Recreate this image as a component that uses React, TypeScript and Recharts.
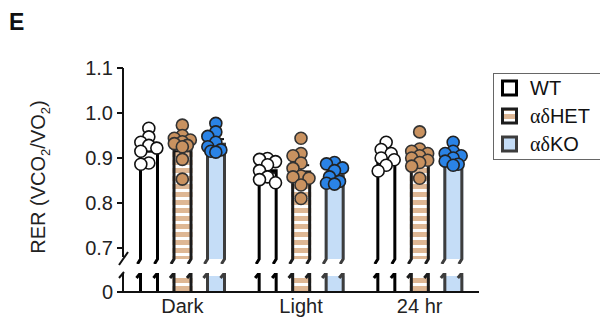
import { Bar, ComposedChart, ErrorBar, Scatter, XAxis, YAxis } from "recharts";

// Respiratory exchange ratio per genotype, dark / light phase and full day
const GROUPS = ["Dark", "Light", "24 hr"];

const WT_MEAN = [0.924, 0.875, 0.902];
const WT_SEM = [0.01, 0.008, 0.008];
const HET_MEAN = [0.926, 0.872, 0.905];
const HET_SEM = [0.011, 0.012, 0.009];
const KO_MEAN = [0.934, 0.864, 0.904];
const KO_SEM = [0.008, 0.007, 0.006];

const WT_POINTS = [
  [0.966, 0.947, 0.935, 0.928, 0.922, 0.915, 0.889, 0.886],
  [0.899, 0.897, 0.892, 0.885, 0.872, 0.858, 0.852, 0.845],
  [0.935, 0.919, 0.91, 0.9, 0.896, 0.884, 0.871],
];
const HET_POINTS = [
  [0.973, 0.95, 0.944, 0.94, 0.936, 0.932, 0.928, 0.925, 0.897, 0.853],
  [0.944, 0.91, 0.905, 0.889, 0.877, 0.86, 0.858, 0.855, 0.84, 0.81],
  [0.958, 0.92, 0.915, 0.91, 0.905, 0.9, 0.895, 0.89, 0.882, 0.855],
];
const KO_POINTS = [
  [0.977, 0.958, 0.948, 0.935, 0.925, 0.918, 0.915, 0.913],
  [0.89, 0.887, 0.878, 0.872, 0.858, 0.848, 0.844, 0.842],
  [0.935, 0.915, 0.91, 0.905, 0.9, 0.893, 0.886, 0.884],
];

const Y_TICKS = [0.7, 0.8, 0.9, 1.0, 1.1];
const Y_MIN = 0.68;
const Y_MAX = 1.1;

// layout
const W = 600;
const H = 328;
const PLOT_LEFT = 123;
const PLOT_RIGHT = 479;
const BAND = (PLOT_RIGHT - PLOT_LEFT) / GROUPS.length;
const UPPER_TOP = 68;
const UPPER_BOTTOM = 257;
const UPPER_H = 264;
const LOWER_Y = 262;
const LOWER_TOP = 273;
const AXIS_Y = 292;
const BAR_SIZE = 20;
const BAR_GAP = 13.5;
const DOT_R = 6;

const FONT = "'Liberation Sans', Arial, sans-serif";
const TICK = { fontSize: 20, fill: "#222", fontFamily: FONT };
const AXIS_LINE = { stroke: "#111", strokeWidth: 2 };

const SERIES = [
  { key: "wt", label: "WT", stroke: "#000", fill: "#fff", dot: "#fff", dotStroke: "#111", mean: WT_MEAN, sem: WT_SEM, points: WT_POINTS },
  { key: "het", label: "HET", stroke: "#1c1c1c", fill: "url(#stripes)", dot: "#c99260", dotStroke: "#333", mean: HET_MEAN, sem: HET_SEM, points: HET_POINTS },
  { key: "ko", label: "KO", stroke: "#3d3d3d", fill: "#c5ddf7", dot: "#2a83e6", dotStroke: "#222", mean: KO_MEAN, sem: KO_SEM, points: KO_POINTS },
];

const table = GROUPS.map((group, i) => {
  const row: Record<string, string | number> = { group };
  SERIES.forEach((s) => {
    row[s.key] = s.mean[i];
    row[s.key + "Sem"] = s.sem[i];
  });
  return row;
});

// simple beeswarm: nudge dots sideways so they don't pile on each other
const PX_PER_UNIT = (UPPER_BOTTOM - UPPER_TOP) / (Y_MAX - Y_MIN);
const SLOTS = [0, -5, 5, -8, 8];
const MIN_GAP = 8;
function swarm(values: number[]): number[] {
  const placed: { dx: number; y: number }[] = [];
  return values.map((v) => {
    const y = v * PX_PER_UNIT;
    let best = 0;
    let bestGap = -1;
    for (const dx of SLOTS) {
      const gap = Math.min(Infinity, ...placed.map((p) => Math.hypot(p.dx - dx, p.y - y)));
      if (gap >= MIN_GAP) {
        best = dx;
        break;
      }
      if (gap > bestGap) {
        best = dx;
        bestGap = gap;
      }
    }
    placed.push({ dx: best, y });
    return best;
  });
}

const STEP = (BAR_SIZE + BAR_GAP) / BAND;
const scatterData = SERIES.map((s, si) =>
  s.points.flatMap((vals, g) => {
    const offs = swarm(vals);
    return vals.map((v, k) => ({ x: g + 0.5 + (si - 1) * STEP + offs[k] / BAND, y: v }));
  })
);

// bar with broken-axis ends: "upper" piece has feet at the bottom, "lower" piece has flags on top
function brokenBar(stroke: string, fill: string, part: "upper" | "lower") {
  return (props: any) => {
    const { x, y, width, height } = props;
    const l = x + 1.5;
    const r = x + width - 1.5;
    const bottom = y + height;
    if (part === "upper") {
      return (
        <g>
          <rect x={x} y={y} width={width} height={height + 2} fill={fill} />
          <path
            d={`M${l - 3},${bottom + 7} L${l},${bottom + 2} L${l},${y + 1.5} L${r},${y + 1.5} L${r},${bottom + 2} L${r - 3},${bottom + 7}`}
            fill="none"
            stroke={stroke}
            strokeWidth={3}
          />
        </g>
      );
    }
    const top = Math.max(y, LOWER_TOP - LOWER_Y);
    return (
      <g>
        <rect x={x} y={top + 3} width={width} height={bottom - top - 3} fill={fill} />
        <path d={`M${l - 4},${top + 5} L${l},${top} L${l},${bottom}`} fill="none" stroke={stroke} strokeWidth={3} />
        <path d={`M${r - 4},${top + 5} L${r},${top} L${r},${bottom}`} fill="none" stroke={stroke} strokeWidth={3} />
      </g>
    );
  };
}

function dot(fill: string, stroke: string) {
  return (p: any) => <circle cx={p.cx} cy={p.cy} r={DOT_R} fill={fill} stroke={stroke} strokeWidth={1.6} />;
}

function Stripes({ id }: { id: string }) {
  return (
    <defs>
      <pattern id={id} patternUnits="userSpaceOnUse" width={8} height={8}>
        <rect width={8} height={8} fill="#deb794" />
        <rect y={5} width={8} height={3} fill="#fff" />
      </pattern>
    </defs>
  );
}

function Legend() {
  return (
    <div
      style={{
        position: "absolute",
        left: 493,
        top: 73,
        width: 130,
        height: 87,
        border: "1px solid #666",
        boxSizing: "border-box",
      }}
    >
      <svg width={130} height={87}>
        <Stripes id="stripes-legend" />
        {SERIES.map((s, i) => {
          const cy = 14 + i * 28;
          return (
            <g key={s.key}>
              <rect
                x={8.5}
                y={cy - 7}
                width={14}
                height={14}
                fill={s.key === "het" ? "url(#stripes-legend)" : s.fill}
                stroke={s.stroke}
                strokeWidth={3}
              />
              <text x={36} y={cy + 7} fontSize={20} fontFamily={FONT} fill="#111">
                {s.key !== "wt" && <tspan fontFamily="'Liberation Serif', serif">αδ</tspan>}
                {s.label}
              </text>
            </g>
          );
        })}
      </svg>
    </div>
  );
}

export default function App() {
  return (
    <div style={{ position: "absolute", left: 0, top: 0, width: W, height: H, background: "#fff", fontFamily: FONT }}>
      {/* upper piece: 0.7 – 1.1 */}
      <div style={{ position: "absolute", left: 0, top: 0 }}>
        <ComposedChart
          width={W}
          height={UPPER_H}
          data={table}
          barSize={BAR_SIZE}
          barGap={BAR_GAP}
          margin={{ top: UPPER_TOP, right: W - PLOT_RIGHT, bottom: UPPER_H - UPPER_BOTTOM, left: 0 }}
        >
          <Stripes id="stripes" />
          <XAxis dataKey="group" hide />
          <XAxis xAxisId="pts" type="number" dataKey="x" domain={[0, GROUPS.length]} hide />
          <YAxis
            width={PLOT_LEFT}
            type="number"
            domain={[Y_MIN, Y_MAX]}
            ticks={Y_TICKS}
            tickFormatter={(v: number) => v.toFixed(1)}
            axisLine={AXIS_LINE}
            tickLine={AXIS_LINE}
            tickSize={6}
            tickMargin={4}
            tick={TICK}
          />
          {SERIES.map((s) => (
            <Bar key={s.key} dataKey={s.key} isAnimationActive={false} shape={brokenBar(s.stroke, s.fill, "upper")}>
              <ErrorBar dataKey={s.key + "Sem"} width={8} stroke="#111" strokeWidth={2} direction="y" />
            </Bar>
          ))}
          {SERIES.map((s, si) => (
            <Scatter
              key={s.key + "-pts"}
              data={scatterData[si]}
              dataKey="y"
              xAxisId="pts"
              isAnimationActive={false}
              shape={dot(s.dot, s.dotStroke)}
            />
          ))}
        </ComposedChart>
      </div>

      {/* lower piece: the zero baseline */}
      <div style={{ position: "absolute", left: 0, top: LOWER_Y }}>
        <ComposedChart
          width={W}
          height={H - LOWER_Y}
          data={table}
          barSize={BAR_SIZE}
          barGap={BAR_GAP}
          margin={{ top: LOWER_TOP - LOWER_Y, right: W - PLOT_RIGHT, bottom: 0, left: 0 }}
        >
          <Stripes id="stripes-low" />
          <XAxis
            dataKey="group"
            height={H - AXIS_Y}
            axisLine={AXIS_LINE}
            tickLine={false}
            tickSize={6}
            tickMargin={1}
            tick={TICK}
          />
          <YAxis
            width={PLOT_LEFT}
            type="number"
            domain={[0, 0.04]}
            ticks={[0]}
            allowDataOverflow
            axisLine={AXIS_LINE}
            tickLine={AXIS_LINE}
            tickSize={6}
            tickMargin={4}
            tick={TICK}
          />
          {SERIES.map((s) => (
            <Bar
              key={s.key}
              dataKey={s.key}
              isAnimationActive={false}
              shape={brokenBar(s.stroke, s.key === "het" ? "url(#stripes-low)" : s.fill, "lower")}
            />
          ))}
        </ComposedChart>
      </div>

      {/* panel letter, axis title and y-axis break marks */}
      <svg width={W} height={H} style={{ position: "absolute", left: 0, top: 0, pointerEvents: "none" }}>
        <text x={9} y={30} fontSize={23} fontWeight="bold" fontFamily={FONT} fill="#111">
          E
        </text>
        <text
          transform={`translate(45, 177) rotate(-90)`}
          textAnchor="middle"
          fontSize={20}
          fontFamily={FONT}
          fill="#222"
        >
          RER (VCO<tspan dy={5} fontSize={13}>2</tspan>
          <tspan dy={-5}>/VO</tspan>
          <tspan dy={5} fontSize={13}>2</tspan>
          <tspan dy={-5}>)</tspan>
        </text>
        <path
          d={`M${PLOT_LEFT + 5},${UPPER_BOTTOM - 5} L${PLOT_LEFT - 4},${UPPER_BOTTOM + 8}`}
          stroke="#111"
          strokeWidth={2}
        />
        <path
          d={`M${PLOT_LEFT - 4},${LOWER_TOP + 5} L${PLOT_LEFT + 1},${LOWER_TOP - 1}`}
          stroke="#111"
          strokeWidth={2}
        />
      </svg>

      <Legend />
    </div>
  );
}
